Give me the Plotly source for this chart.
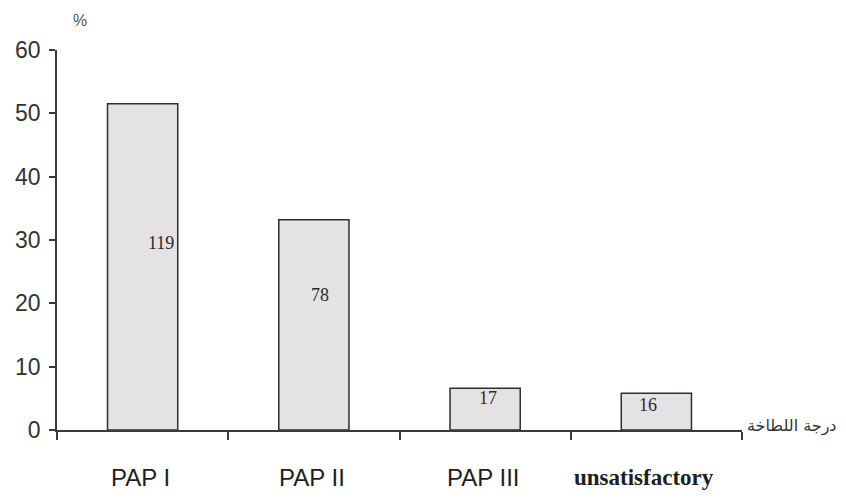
import plotly.graph_objects as go

# Pap smear grades and their share of all smears (%)
categories = ["PAP I", "PAP II", "PAP III", "unsatisfactory"]
percent = [51.5, 33.2, 6.6, 5.8]
counts = [119, 78, 17, 16]
# height (in %) at which each count is written inside its bar
count_label_y = [29.5, 21.3, 5.0, 3.9]

axis_col = "#3a3a3a"
sans = "Liberation Sans, Arial, sans-serif"
serif = "Liberation Serif, Times New Roman, serif"

fig = go.Figure(
    go.Bar(
        x=categories,
        y=percent,
        width=0.41,
        marker=dict(color="#e4e2e4", line=dict(color="#2e2e2e", width=1.5)),
        hoverinfo="x+y",
    )
)

# counts written inside the bars
count_xshift = [18, 6, 3, -8]
for cat, n, ly, dx in zip(categories, counts, count_label_y, count_xshift):
    fig.add_annotation(
        x=cat, y=ly, text=str(n), showarrow=False, xshift=dx,
        font=dict(family=serif, size=18, color="#2a2a2a"),
    )

# category names under the axis
for cat in categories:
    is_text = cat == "unsatisfactory"
    fig.add_annotation(
        x=cat, xref="x", y=-0.124, yref="paper", yanchor="middle",
        xshift=-12 if is_text else -2,
        text=f"<b>{cat}</b>" if is_text else cat, showarrow=False,
        font=dict(family=serif if is_text else sans,
                  size=23 if is_text else 24, color="#1e1e1e"),
    )

# unit of the value axis
fig.add_annotation(
    x=0.02, xref="paper", y=1.105, yref="paper", text="%", showarrow=False,
    font=dict(family=sans, size=16, color="#555555"),
)
# title of the category axis
fig.add_annotation(
    x=1.004, xref="paper", y=0.01, yref="paper", xanchor="left",
    yanchor="middle", text="درجة اللطاخة", showarrow=False,
    font=dict(family="DejaVu Sans, Noto Sans, sans-serif", size=16, color="#333333"),
)

fig.update_layout(
    width=846, height=498,
    margin=dict(l=57, r=104, t=50, b=68),
    paper_bgcolor="white", plot_bgcolor="white",
    showlegend=False, bargap=0.59,
)
fig.update_xaxes(
    range=[-0.5, 3.5], showticklabels=False, showgrid=False, zeroline=False,
    showline=True, linecolor=axis_col, linewidth=2,
    ticks="outside", tickson="boundaries", ticklen=8, tickcolor=axis_col,
    tickwidth=1.5,
)
fig.update_yaxes(
    range=[0, 60], dtick=10, tick0=0, showgrid=False, zeroline=False,
    showline=True, linecolor=axis_col, linewidth=1.5,
    ticks="outside", ticklen=6, tickcolor=axis_col, tickwidth=1.5,
    tickfont=dict(family=sans, size=23, color="#333333"),
    ticklabelstandoff=4,
)

fig.write_html("out.html")
